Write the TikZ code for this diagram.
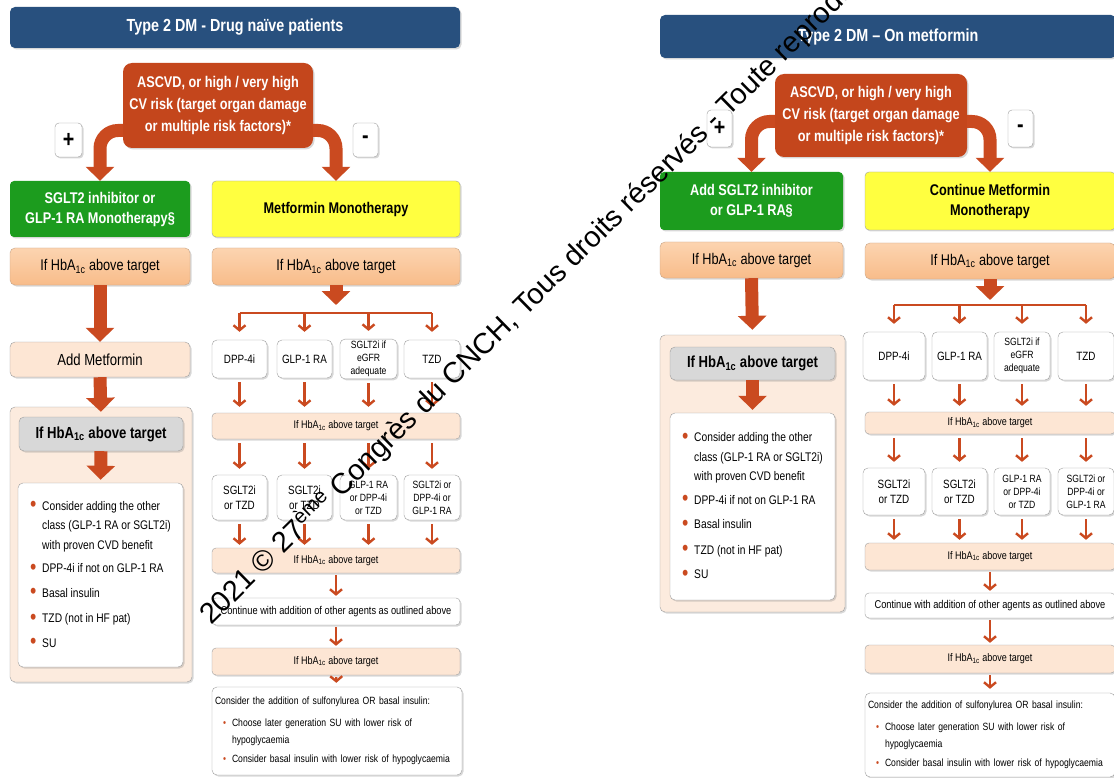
\documentclass[tikz,border=0pt]{standalone}
\usepackage{fontspec}
\setmainfont{Liberation Sans}[FakeStretch=0.82]
\newfontfamily\wmfont{Liberation Sans}
\usepackage{xcolor}
\usetikzlibrary{arrows.meta,positioning,shadows}

\definecolor{hdrblue}{RGB}{40,80,126}
\definecolor{riskred}{RGB}{196,70,28}
\definecolor{arrowred}{RGB}{202,74,32}
\definecolor{gdgreen}{RGB}{28,156,30}
\definecolor{mfyellow}{RGB}{255,255,64}
\definecolor{peachtop}{RGB}{252,212,176}
\definecolor{peachbot}{RGB}{248,188,138}
\definecolor{peachlt}{RGB}{253,230,212}
\definecolor{panelfill}{RGB}{252,235,222}
\definecolor{boxedge}{RGB}{158,158,158}
\definecolor{greyfill}{RGB}{216,216,216}

\newcommand{\setfs}[2]{\fontsize{#1}{#2}\selectfont}
\newcommand{\hba}{HbA\textsubscript{1c}}
\newcommand{\bul}{\makebox[12pt][l]{\raisebox{-1.5pt}{\textcolor{arrowred}{\setfs{22}{22}\textbullet}}}}
\newcommand{\sbul}{\makebox[9pt][l]{\textcolor{arrowred}{\textbullet}}}

\begin{document}
\begin{tikzpicture}[
  x=1pt, y=-1pt,
  sz/.style 2 args={minimum width=#1pt, minimum height=#2pt},
  shadowed/.style={drop shadow={shadow xshift=1.5pt, shadow yshift=-1.5pt, opacity=0.3}},
  boxbase/.style={rectangle, inner sep=2pt, align=center, shadowed},
  hdr/.style={boxbase, fill=hdrblue, rounded corners=5pt, text=white, font=\setfs{17.5}{20}\bfseries},
  risk/.style={boxbase, fill=riskred, rounded corners=9pt, text=white, font=\setfs{15.5}{22}\bfseries},
  sign/.style={boxbase, draw=boxedge, fill=white, rounded corners=4pt, font=\setfs{24}{24}\bfseries},
  choice/.style={boxbase, rounded corners=4pt, font=\setfs{15.5}{20}\bfseries},
  ifbig/.style={boxbase, draw=peachbot!60!gray, top color=peachtop, bottom color=peachbot, rounded corners=5pt, font=\setfs{15.5}{18}},
  ifsmall/.style={boxbase, draw=boxedge, fill=peachlt, rounded corners=4pt, font=\setfs{11}{12}},
  stepbox/.style={boxbase, draw=boxedge, fill=peachlt, rounded corners=5pt, font=\setfs{16}{18}},
  panel/.style={boxbase, draw=boxedge, fill=panelfill, rounded corners=5pt},
  greybox/.style={boxbase, draw=boxedge, fill=greyfill, rounded corners=5pt, font=\setfs{16}{18}\bfseries},
  listbox/.style={boxbase, draw=boxedge, fill=white, rounded corners=5pt, align=left, font=\setfs{12.5}{19.5}},
  drug/.style={boxbase, draw=boxedge, fill=white, rounded corners=5pt, font=\setfs{12}{15}},
  drugsm/.style={drug, font=\setfs{10.5}{13}},
  note/.style={boxbase, draw=boxedge, fill=white, rounded corners=4pt, font=\setfs{11.3}{12}},
  finalbox/.style={boxbase, draw=boxedge, fill=white, rounded corners=5pt, align=left, text width=244pt, inner xsep=3pt, font=\setfs{10.5}{18.5}},
  fat/.style={draw=arrowred, line width=13pt, -{Triangle[length=14pt, width=28pt]}},
  arr/.style={draw=arrowred, line width=2.4pt, -{Straight Barb[length=5pt, width=12pt]}, shorten <=4pt, shorten >=6pt},
  fan/.style={draw=arrowred, line width=2.6pt}
]
\useasboundingbox (0,0) rectangle (1114,778);
\clip (0,0) rectangle (1114,778);
\fill[white] (0,0) rectangle (1114,778);

\node[hdr, sz={450}{41}] (title1) at (235,27.5) {Type 2 DM - Drug naïve patients};
\node[risk, sz={190}{85}] (ascvd1) at (218,105.5) {ASCVD, or high / very high\\CV risk (target organ damage\\or multiple risk factors)*};
\node[sign, sz={27}{34}] (plus1) at (68.5,140) {+};
\node[sign, sz={25}{34}] (minus1) at (365.5,140) {-};
\node[choice, fill=gdgreen, text=white, sz={180}{56}] (green1) at (100,209) {SGLT2 inhibitor or\\GLP-1 RA Monotherapy§};
\node[choice, fill=mfyellow, draw=boxedge, sz={248}{56}] (yel1) at (336,209) {Metformin Monotherapy};
\node[ifbig, sz={180}{37}] (ifA1) at (100,266.5) {If \hba{} above target};
\node[ifbig, sz={248}{37}] (ifB1) at (336,266.5) {If \hba{} above target};
\node[stepbox, sz={180}{35}] (addmet) at (100,359.5) {Add Metformin};
\node[panel, sz={182}{275}] (cont1) at (101,544.5) {};
\node[greybox, sz={164}{34}] (grey1) at (101,434) {If \hba{} above target};
\node[listbox, sz={165}{184}] (bul1) at (100.5,575) {\bul Consider adding the other\\
  \hspace*{12pt}class (GLP-1 RA or SGLT2i)\\
  \hspace*{12pt}with proven CVD benefit\\[4pt]
  \bul DPP-4i if not on GLP-1 RA\\[5pt]
  \bul Basal insulin\\[6pt]
  \bul TZD (not in HF pat)\\[5pt]
  \bul SU};

\coordinate (bar1) at (336,313);
\node[drug, sz={55}{38}] (dpp1) at (239.5,359) {DPP-4i};
\node[drug, sz={55}{38}] (glp1) at (304.5,359) {GLP-1 RA};
\node[drugsm, sz={57}{38}] (sgl1) at (368.5,359) {SGLT2i if\\eGFR\\adequate};
\node[drug, sz={56}{38}] (tzd1) at (432,359) {TZD};
\node[ifsmall, sz={248}{26}] (ifC1) at (336,426) {If \hba{} above target};
\node[drug, sz={55}{45}] (nxA1) at (239.5,497.5) {SGLT2i\\or TZD};
\node[drug, sz={55}{45}] (nxB1) at (304.5,497.5) {SGLT2i\\or TZD};
\node[drugsm, sz={57}{45}] (nxC1) at (368.5,497.5) {GLP-1 RA\\or DPP-4i\\or TZD};
\node[drugsm, sz={56}{45}] (nxD1) at (432,497.5) {SGLT2i or\\DPP-4i or\\GLP-1 RA};
\node[ifsmall, sz={248}{25}] (ifD1) at (336,560.5) {If \hba{} above target};
\node[note, sz={248}{27}] (addon1) at (336,611.5) {Continue with addition of other agents as outlined above};
\node[ifsmall, sz={248}{27}] (ifE1) at (336,661.5) {If \hba{} above target};
\node[finalbox, sz={250}{88}] (final1) at (337,731) {Consider the addition of sulfonylurea OR basal insulin:\\[3pt]
  \hspace*{8pt}\sbul Choose later generation SU with lower risk of\\[-1pt]
  \hspace*{17pt}hypoglycaemia\\
  \hspace*{8pt}\sbul Consider basal insulin with lower risk of hypoglycaemia};

\node[hdr, sz={456}{43}] (title2) at (888,36.5) {Type 2 DM – On metformin};
\node[risk, sz={192}{83}] (ascvd2) at (871,115.5) {ASCVD, or high / very high\\CV risk (target organ damage\\or multiple risk factors)*};
\node[sign, sz={25}{37}] (plus2) at (719.5,128.5) {+};
\node[sign, sz={25}{37}] (minus2) at (1020.5,128.5) {-};
\node[choice, fill=gdgreen, text=white, sz={183}{58}] (green2) at (751.5,201) {Add SGLT2 inhibitor\\or GLP-1 RA§};
\node[choice, fill=mfyellow, draw=boxedge, sz={250}{58}] (yel2) at (990,201) {Continue Metformin\\Monotherapy};
\node[ifbig, sz={183}{36}] (ifA2) at (751.5,260) {If \hba{} above target};
\node[ifbig, sz={250}{36}] (ifB2) at (990,261) {If \hba{} above target};
\node[panel, sz={185}{277}] (cont2) at (752.5,473.5) {};
\node[greybox, sz={165}{33}] (grey2) at (752.5,363.5) {If \hba{} above target};
\node[listbox, sz={165}{187}] (bul2) at (752.5,506.5) {\bul Consider adding the other\\
  \hspace*{12pt}class (GLP-1 RA or SGLT2i)\\
  \hspace*{12pt}with proven CVD benefit\\[4pt]
  \bul DPP-4i if not on GLP-1 RA\\[5pt]
  \bul Basal insulin\\[6pt]
  \bul TZD (not in HF pat)\\[5pt]
  \bul SU};

\coordinate (bar2) at (990,305);
\node[drug, sz={62}{48}] (dpp2) at (894,356) {DPP-4i};
\node[drug, sz={55}{48}] (glp2) at (959.5,356) {GLP-1 RA};
\node[drugsm, sz={56}{48}] (sgl2) at (1022,356) {SGLT2i if\\eGFR\\adequate};
\node[drug, sz={56}{48}] (tzd2) at (1086,356) {TZD};
\node[ifsmall, sz={250}{22}] (ifC2) at (990,423) {If \hba{} above target};
\node[drug, sz={62}{47}] (nxA2) at (894,491.5) {SGLT2i\\or TZD};
\node[drug, sz={55}{47}] (nxB2) at (959.5,491.5) {SGLT2i\\or TZD};
\node[drugsm, sz={56}{47}] (nxC2) at (1022,491.5) {GLP-1 RA\\or DPP-4i\\or TZD};
\node[drugsm, sz={56}{47}] (nxD2) at (1086,491.5) {SGLT2i or\\DPP-4i or\\GLP-1 RA};
\node[ifsmall, sz={250}{27}] (ifD2) at (990,556.5) {If \hba{} above target};
\node[note, sz={250}{25}] (addon2) at (990,605.5) {Continue with addition of other agents as outlined above};
\node[ifsmall, sz={250}{28}] (ifE2) at (990,659) {If \hba{} above target};
\node[finalbox, sz={250}{84}] (final2) at (990,735) {Consider the addition of sulfonylurea OR basal insulin:\\[3pt]
  \hspace*{8pt}\sbul Choose later generation SU with lower risk of\\[-1pt]
  \hspace*{17pt}hypoglycaemia\\
  \hspace*{8pt}\sbul Consider basal insulin with lower risk of hypoglycaemia};

\draw[fat, rounded corners=18pt] ([yshift=-25pt]ascvd1.west) -| (green1.north);
\draw[fat, rounded corners=18pt] ([yshift=-25pt]ascvd1.east) -| (yel1.north);
\draw[fat] (ifA1.south) -- (addmet.north);
\draw[fat, shorten >=5pt] (addmet.south) -- (grey1.north);
\draw[fat, shorten >=3pt] (grey1.south) -- (bul1.north);
\draw[fat] (ifB1.south) -- ([yshift=8pt]bar1);
\draw[fan] (bar1 -| dpp1) -- (bar1 -| tzd1);
\foreach \c in {dpp1,glp1,sgl1,tzd1}
  \draw[arr, shorten <=0pt, shorten >=8pt] (bar1 -| \c) -- (\c.north);
\foreach \c in {dpp1,glp1,sgl1,tzd1}
  \draw[arr] (\c.south) -- (\c.south |- ifC1.north);
\foreach \c in {nxA1,nxB1,nxC1,nxD1}
  \draw[arr] (\c.north |- ifC1.south) -- (\c.north);
\foreach \c in {nxA1,nxB1,nxC1,nxD1}
  \draw[arr, shorten >=3pt] (\c.south) -- (\c.south |- ifD1.north);
\draw[arr, shorten <=2pt, shorten >=2pt] (ifD1) -- (addon1);
\draw[arr, shorten <=2pt, shorten >=2pt] (addon1) -- (ifE1);
\draw[arr, shorten <=2pt, shorten >=4pt] (ifE1) -- (final1);

\draw[fat, rounded corners=18pt] ([yshift=-6pt]ascvd2.west) -| (green2.north);
\draw[fat, rounded corners=18pt] ([yshift=-6pt]ascvd2.east) -| (yel2.north);
\draw[fat, shorten >=5pt] (ifA2.south) -- (cont2.north);
\draw[fat, shorten >=3pt] (grey2.south) -- (bul2.north);
\draw[fat] (ifB2.south) -- ([yshift=5pt]bar2);
\draw[fan] (bar2 -| dpp2) -- (bar2 -| tzd2);
\foreach \c in {dpp2,glp2,sgl2,tzd2}
  \draw[arr, shorten <=0pt, shorten >=8pt] (bar2 -| \c) -- (\c.north);
\foreach \c in {dpp2,glp2,sgl2,tzd2}
  \draw[arr] (\c.south) -- (\c.south |- ifC2.north);
\foreach \c in {nxA2,nxB2,nxC2,nxD2}
  \draw[arr] (\c.north |- ifC2.south) -- (\c.north);
\foreach \c in {nxA2,nxB2,nxC2,nxD2}
  \draw[arr, shorten >=3pt] (\c.south) -- (\c.south |- ifD2.north);
\draw[arr, shorten <=2pt, shorten >=2pt] (ifD2) -- (addon2);
\draw[arr, shorten <=2pt, shorten >=2pt] (addon2) -- (ifE2);
\draw[arr, shorten <=2pt, shorten >=4pt] (ifE2) -- (final2);

\node[rotate=44.5, anchor=base west, inner sep=0pt, font=\wmfont\setfs{29}{29}] (mark) at (211,626) {2021 © 27\textsuperscript{ème} Congrès du CNCH, Tous droits réservés - Toute reproduction};
\end{tikzpicture}
\end{document}
